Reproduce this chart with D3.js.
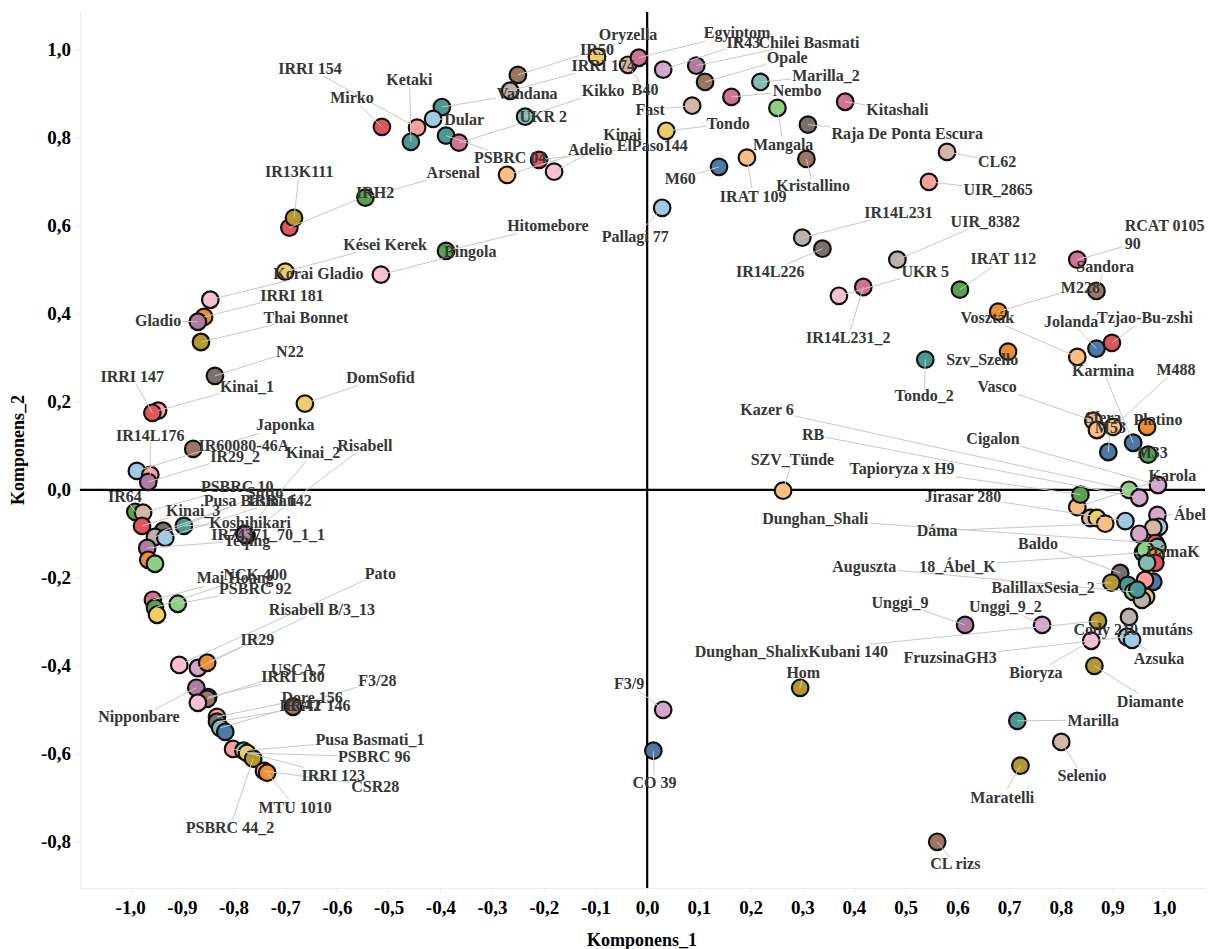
<!DOCTYPE html>
<html><head><meta charset="utf-8">
<script src="https://cdn.jsdelivr.net/npm/d3@7"></script>
<style>body{margin:0;background:#fff}</style>
</head><body><svg id="c" width="1214" height="949"></svg>
<script>
const varieties = ["Mirko","IRRI 154","Ketaki","Vandana","Dular","PSBRC 04","UKR 2","IRH2","IR13K111","Arsenal",
"IR50","IRRI 174","Kikko","Oryzella","B40","Egyiptom","Adelio","ElPaso144","Kinai","IR43",
"Chilei Basmati","Opale","Nembo","Marilla_2","Mangala","Fast","Tondo","M60","IRAT 109","Pallagi 77",
"Raja De Ponta Escura","Kristallino","Kitashali","CL62","UIR_2865","IR14L231","IR14L226","UIR_8382","IR14L231_2","UKR 5",
"IRAT 112","M228","RCAT 0105\n90","Sandora","Voszták","Szv_Szello","Tondo_2","Jolanda","Tzjao-Bu-zshi","Karmina",
"M488","Vasco","Sfera","Platino","M53","M33","Karola","Cigalon","Tapioryza x H9","Kazer 6",
"RB","","","Dáma","Jirasar 280","Ábel","","","","Dunghan_Shali",
"","18_Ábel_K","","DámaK","","","","","Baldo","BalillaxSesia_2",
"","Auguszta","","","","Dunghan_ShalixKubani 140","Cody 210 mutáns","FruzsinaGH3","Azsuka","Bioryza",
"Diamante","Unggi_9","Unggi_9_2","Hom","F3/9","CO 39","Marilla","Selenio","Maratelli","CL rizs",
"SZV_Tünde","Korai Gladio","Kései Kerek","Bingola","Hitomebore","IRRI 181","Gladio","Thai Bonnet","N22","Kinai_1",
"IRRI 147","DomSofid","IR60080-46A","Japonka","IR14L176","IR29_2","IR64","PSBRC 10","Kinai_3","Koshihikari",
"Pusa Basmati","Sutto","IRRI 142","Kinai_2","Risabell","IR74371_70_1_1","Teqing","","","Mai Hoang",
"NCK 400","","PSBRC 92","Pato","Risabell B/3_13","IR29","Nipponbare","IRRI 180","USCA 7","",
"Dore 156","IRAT 146","IR342","","F3/28","IRRI 123","Pusa Basmati_1","PSBRC 96","PSBRC 44_2","CSR28",
"MTU 1010"];

const komponens1 = [-0.513,-0.445,-0.457,-0.397,-0.414,-0.389,-0.364,-0.692,-0.683,-0.545,
-0.250,-0.265,-0.236,-0.097,-0.037,-0.016,-0.271,-0.209,-0.180,0.031,
0.095,0.112,0.163,0.219,0.252,0.087,0.037,0.139,0.193,0.029,
0.311,0.308,0.383,0.580,0.545,0.300,0.339,0.484,0.418,0.371,
0.605,0.679,0.832,0.869,0.832,0.698,0.538,0.869,0.899,0.940,
0.901,0.863,0.870,0.967,0.892,0.969,0.832,0.988,0.838,0.932,
0.952,0.857,0.870,0.886,0.925,0.987,0.990,0.979,0.952,0.983,
0.987,0.959,0.963,0.983,0.983,0.967,0.979,0.963,0.915,0.898,
0.930,0.940,0.965,0.957,0.948,0.872,0.932,0.928,0.938,0.859,
0.865,0.615,0.764,0.296,0.031,0.012,0.716,0.801,0.722,0.561,
0.263,-0.845,-0.700,-0.515,-0.389,-0.857,-0.869,-0.863,-0.836,-0.946,
-0.957,-0.662,-0.878,-0.987,-0.961,-0.965,-0.990,-0.975,-0.977,-0.896,
-0.936,-0.952,-0.932,-0.779,-0.775,-0.778,-0.967,-0.965,-0.952,-0.956,
-0.952,-0.948,-0.908,-0.905,-0.869,-0.851,-0.872,-0.849,-0.851,-0.869,
-0.832,-0.832,-0.826,-0.816,-0.685,-0.801,-0.781,-0.774,-0.762,-0.741,
-0.735];

const komponens2 = [0.825,0.823,0.791,0.870,0.843,0.805,0.789,0.596,0.618,0.664,
0.943,0.907,0.848,0.984,0.966,0.982,0.716,0.750,0.723,0.955,
0.964,0.927,0.893,0.927,0.868,0.873,0.816,0.734,0.755,0.641,
0.830,0.752,0.882,0.768,0.700,0.573,0.548,0.523,0.461,0.441,
0.455,0.405,0.523,0.452,0.302,0.314,0.296,0.321,0.334,0.107,
0.143,0.157,0.136,0.143,0.086,0.080,-0.039,0.011,-0.011,0.000,
-0.018,-0.064,-0.064,-0.077,-0.071,-0.057,-0.084,-0.086,-0.100,-0.121,
-0.130,-0.143,-0.136,-0.152,-0.166,-0.166,-0.209,-0.205,-0.189,-0.211,
-0.216,-0.232,-0.243,-0.250,-0.227,-0.298,-0.289,-0.334,-0.341,-0.343,
-0.400,-0.307,-0.307,-0.450,-0.500,-0.593,-0.525,-0.573,-0.627,-0.800,
-0.002,0.432,0.496,0.489,0.543,0.393,0.382,0.336,0.259,0.180,
0.175,0.196,0.093,0.043,0.034,0.018,-0.050,-0.052,-0.082,-0.082,
-0.093,-0.107,-0.109,-0.100,-0.104,-0.102,-0.132,-0.159,-0.168,-0.250,
-0.268,-0.284,-0.259,-0.398,-0.405,-0.393,-0.450,-0.471,-0.475,-0.484,
-0.516,-0.527,-0.541,-0.550,-0.493,-0.589,-0.593,-0.598,-0.611,-0.639,
-0.643];

const groupIndex = [10,11,8,8,1,8,14,10,6,4,
18,13,9,7,19,14,3,10,15,17,
16,18,14,9,5,19,7,0,3,1,
12,18,14,19,11,13,12,13,14,15,
4,2,14,18,3,2,8,0,10,0,
3,3,3,2,0,4,3,17,4,5,
17,19,7,3,1,17,1,19,17,10,
9,0,5,2,10,9,0,11,12,6,
8,5,3,13,8,6,13,1,1,15,
6,16,17,6,17,0,8,19,6,18,
3,15,7,15,4,2,16,6,12,11,
10,7,18,1,11,16,4,19,10,8,
12,13,1,16,16,16,16,2,5,14,
4,7,5,15,17,2,16,0,18,15,
11,12,9,0,18,11,9,7,6,11,
2];

const labelKomponens1 = [-0.571,-0.652,-0.460,-0.232,-0.354,-0.265,-0.201,-0.526,-0.673,-0.375,
-0.097,-0.085,-0.085,-0.037,-0.004,0.174,-0.110,0.010,-0.048,0.186,
0.313,0.271,0.290,0.346,0.263,0.006,0.157,0.064,0.205,-0.023,
0.503,0.321,0.484,0.677,0.679,0.486,0.238,0.654,0.389,0.538,
0.689,0.838,1.001,0.886,0.658,0.648,0.536,0.820,0.963,0.882,
1.023,0.677,0.882,0.988,0.896,0.977,1.016,0.669,0.493,0.232,
0.321,null,null,0.561,0.611,1.050,null,null,null,0.325,
null,0.600,null,1.017,null,null,null,null,0.756,0.766,
null,0.420,null,null,null,0.279,0.940,0.586,0.990,0.752,
0.973,0.489,0.693,0.302,-0.035,0.014,0.863,0.841,0.687,0.596,
0.281,-0.636,-0.507,-0.342,-0.192,-0.687,-0.946,-0.660,-0.691,-0.774,
-0.996,-0.516,-0.780,-0.700,-0.961,-0.797,-1.010,-0.793,-0.878,-0.768,
-0.768,-0.739,-0.710,-0.646,-0.546,-0.733,-0.774,null,null,-0.797,
-0.758,null,-0.758,-0.516,-0.629,-0.754,-0.983,-0.685,-0.675,null,
-0.648,-0.638,-0.671,null,-0.522,-0.607,-0.536,-0.528,-0.807,-0.526,
-0.681];

const labelKomponens2 = [0.891,0.957,0.932,0.902,0.841,0.755,0.848,0.677,0.723,0.721,
1.000,0.964,0.907,1.034,0.909,1.039,0.773,0.782,0.807,1.016,
1.018,0.982,0.907,0.941,0.786,0.864,0.832,0.707,0.668,0.575,
0.809,0.691,0.864,0.746,0.682,0.630,0.496,0.609,0.346,0.496,
0.525,0.461,0.580,0.507,0.391,0.296,0.214,0.382,0.391,0.271,
0.273,0.234,0.164,0.159,0.141,0.086,0.032,0.118,0.048,0.182,
0.125,null,null,-0.093,-0.014,-0.057,null,null,null,-0.066,
null,-0.173,null,-0.141,null,null,null,null,-0.121,-0.221,
null,-0.175,null,null,null,-0.368,-0.318,-0.380,-0.384,-0.414,
-0.480,-0.255,-0.266,-0.414,-0.439,-0.666,-0.523,-0.648,-0.698,-0.850,
0.068,0.493,0.557,0.543,0.600,0.443,0.384,0.393,0.314,0.236,
0.257,0.255,0.102,0.148,0.123,0.077,-0.016,0.007,-0.046,-0.075,
-0.023,-0.007,-0.023,0.084,0.100,-0.102,-0.114,null,null,-0.200,
-0.193,null,-0.225,-0.189,-0.271,-0.339,-0.516,-0.425,-0.409,null,
-0.471,-0.489,-0.489,null,-0.434,-0.648,-0.568,-0.607,-0.768,-0.673,
-0.721];

const xTickValues = d3.range(-10, 11).map(d => d / 10);
const yTickValues = [-0.8, -0.6, -0.4, -0.2, 0, 0.2, 0.4, 0.6, 0.8, 1.0];
const xTitle = "Komponens_1";
const yTitle = "Komponens_2";

// ---- styles ----
const palette = ["#4E79A7","#A0CBE8","#F28E2B","#FFBE7D","#59A14F","#8CD17D","#B6992D","#F1CE63","#499894","#86BCB6",
                 "#E15759","#FF9D9A","#79706E","#BAB0AC","#D37295","#FABFD2","#B07AA1","#D4A6C8","#9D7660","#D7B5A6"];
const FONT = "'Liberation Serif','Times New Roman',serif";

const svg = d3.select("#c");
const x = d3.scaleLinear().domain([-1.097, 1.079]).range([80, 1205]);
const y = d3.scaleLinear().domain([-0.905, 1.086]).range([888, 12]);
const color = d3.scaleOrdinal().domain(d3.range(20)).range(palette);
const fmt = d => d3.format(".1f")(d).replace(".", ",").replace("\u2212", "-");

// axes
const gx = svg.append("g").attr("transform", "translate(0,888)")
  .call(d3.axisBottom(x).tickValues(xTickValues).tickFormat(fmt).tickSize(5).tickSizeOuter(0).tickPadding(8));
const gy = svg.append("g").attr("transform", "translate(80,0)")
  .call(d3.axisLeft(y).tickValues(yTickValues).tickFormat(fmt).tickSize(5).tickSizeOuter(0).tickPadding(4));
[gx, gy].forEach(g => {
  g.select(".domain").attr("stroke", "#ebebeb").attr("stroke-width", 1.2);
  g.selectAll(".tick line").attr("stroke", "#ebebeb").attr("stroke-width", 1.2);
  g.selectAll(".tick text").attr("fill", "#000").attr("font-family", FONT)
    .attr("font-weight", "bold").attr("font-size", 19);
});

// zero lines
svg.append("line").attr("x1", x(-1.097)).attr("x2", x(1.079)).attr("y1", y(0)).attr("y2", y(0))
  .attr("stroke", "#000").attr("stroke-width", 2.2);
svg.append("line").attr("x1", x(0)).attr("x2", x(0)).attr("y1", y(1.086)).attr("y2", y(-0.905))
  .attr("stroke", "#000").attr("stroke-width", 2.2);

// titles
svg.append("text").attr("x", 642).attr("y", 946).attr("text-anchor", "middle")
  .attr("font-family", FONT).attr("font-weight", "bold").attr("font-size", 18).text(xTitle);
svg.append("text").attr("transform", "translate(24,450) rotate(-90)").attr("text-anchor", "middle")
  .attr("font-family", FONT).attr("font-weight", "bold").attr("font-size", 18).text(yTitle);

const pts = varieties.map((n, i) => ({
  name: n, px: x(komponens1[i]), py: y(komponens2[i]), g: groupIndex[i],
  lx: labelKomponens1[i] == null ? null : x(labelKomponens1[i]),
  ly: labelKomponens2[i] == null ? null : y(labelKomponens2[i])
}));

const gPts = svg.append("g");
const gSeg = svg.append("g");
const gTxt = svg.append("g");

gPts.selectAll("circle").data(pts).join("circle")
  .attr("cx", d => d.px).attr("cy", d => d.py).attr("r", 8.3)
  .attr("fill", d => color(d.g)).attr("stroke", "#111").attr("stroke-width", 2.2);

const labeled = pts.filter(d => d.name && d.lx != null);
labeled.forEach(d => {
  const lines = d.name.split("\n");
  const t = gTxt.append("text").attr("font-family", FONT).attr("font-weight", "bold")
    .attr("font-size", 16).attr("fill", "#363636");
  if (lines.length === 1) {
    t.attr("x", d.lx).attr("y", d.ly).attr("dy", "0.35em").attr("text-anchor", "middle").text(d.name);
  } else {
    const lh = 18;
    const spans = lines.map((s, k) => t.append("tspan").attr("x", 0)
      .attr("y", d.ly + (k - (lines.length - 1) / 2) * lh).attr("dy", "0.35em").text(s));
    const w = d3.max(spans, s => s.node().getComputedTextLength());
    spans.forEach(s => s.attr("x", d.lx - w / 2));
  }
  const b = t.node().getBBox();
  const pad = 1;
  const bx0 = b.x - pad, bx1 = b.x + b.width + pad, by0 = b.y + 2 - pad, by1 = b.y + b.height - 2 + pad;
  if (d.px >= bx0 && d.px <= bx1 && d.py >= by0 && d.py <= by1) return;
  const cx = (bx0 + bx1) / 2, cy = (by0 + by1) / 2;
  const dx = cx - d.px, dy = cy - d.py;
  let tMin = 1;
  // intersection with bbox edges along point->center
  const cands = [];
  if (dx !== 0) { cands.push((bx0 - d.px) / dx, (bx1 - d.px) / dx); }
  if (dy !== 0) { cands.push((by0 - d.py) / dy, (by1 - d.py) / dy); }
  cands.forEach(tt => {
    if (tt > 0 && tt < tMin) {
      const ix = d.px + tt * dx, iy = d.py + tt * dy;
      if (ix >= bx0 - 0.01 && ix <= bx1 + 0.01 && iy >= by0 - 0.01 && iy <= by1 + 0.01) tMin = tt;
    }
  });
  const ex = d.px + tMin * dx, ey = d.py + tMin * dy;
  if (Math.hypot(ex - d.px, ey - d.py) < 7) return;
  gSeg.append("line").attr("x1", d.px).attr("y1", d.py).attr("x2", ex).attr("y2", ey)
    .attr("stroke", "#c8c8c8").attr("stroke-width", 1);
});
</script>
</body></html>
